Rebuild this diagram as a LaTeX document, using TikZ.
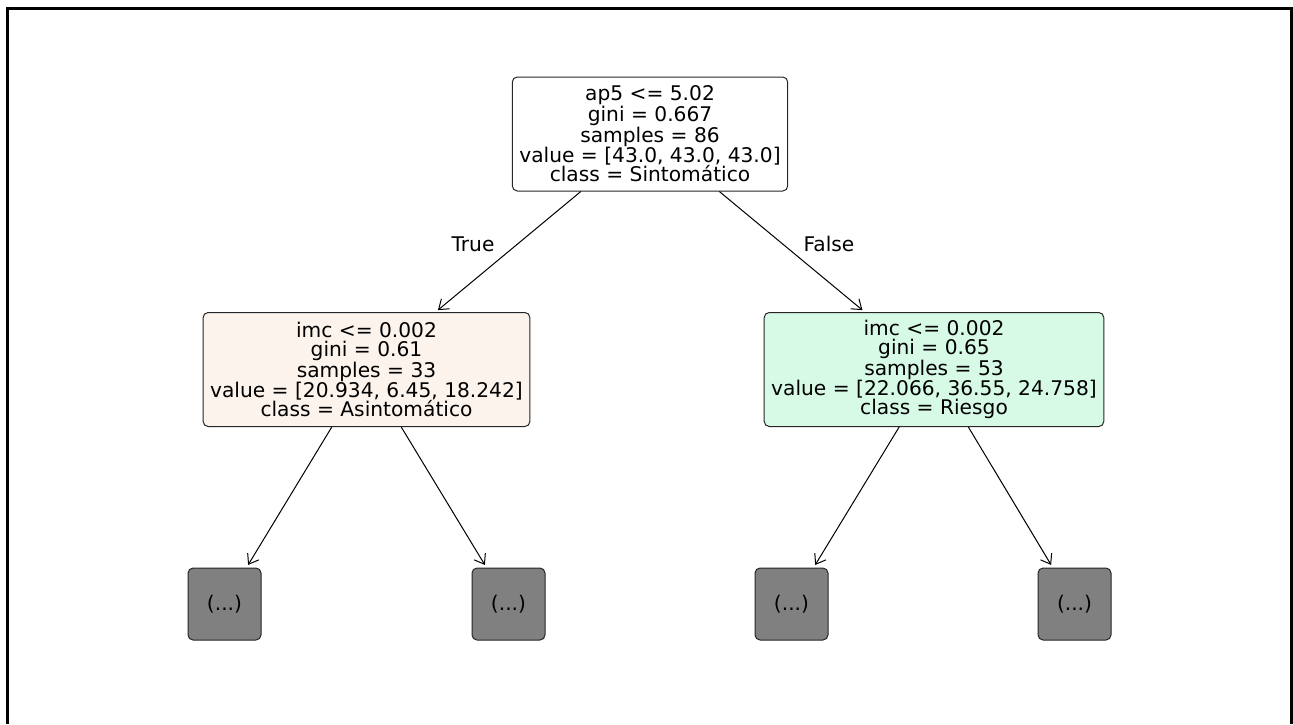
\documentclass[tikz,border=0pt]{standalone}
\usepackage{fontspec}
\setmainfont{DejaVu Sans}
\usetikzlibrary{arrows.meta}

\definecolor{asinto}{RGB}{252,243,236}
\definecolor{riesgo}{RGB}{215,250,230}
\definecolor{trunc}{RGB}{128,128,128}

\tikzset{
	split/.style={draw=black!85, line width=1pt, rounded corners=5pt, align=center,
		inner xsep=7pt, minimum height=114pt, font=\fontsize{20.2}{19.2}\selectfont},
	cut/.style={draw=black!85, line width=1pt, rounded corners=5pt, fill=trunc,
		minimum width=73pt, minimum height=72pt, font=\fontsize{20.2}{19.2}\selectfont},
	branch/.style={line width=1pt, -{Straight Barb[length=9pt,width=13pt]}, shorten >=3pt},
	side/.style={font=\fontsize{20.2}{19.2}\selectfont}
}

\begin{document}
\begin{tikzpicture}[x=1pt, y=-1pt]
	\useasboundingbox (0,0) rectangle (1293,724);
	\draw[line width=3pt] (7,724) -- (7,8) -- (1291,8) -- (1291,724);
	
	\node[split] (root) at (650,134) {ap5 <= 5.02\\gini = 0.667\\samples = 86\\value = [43.0, 43.0, 43.0]\\class = Sintomático};
	
	\node[split, fill=asinto] (a) at (366.5,369.5) {imc <= 0.002\\gini = 0.61\\samples = 33\\value = [20.934, 6.45, 18.242]\\class = Asintomático};
	\node[split, fill=riesgo] (b) at (934,369.5) {imc <= 0.002\\gini = 0.65\\samples = 53\\value = [22.066, 36.55, 24.758]\\class = Riesgo};
	
	\node[cut] (aa) at (224.5,604) {(...)};
	\node[cut] (ab) at (508.5,604) {(...)};
	\node[cut] (ba) at (791.5,604) {(...)};
	\node[cut] (bb) at (1074.5,604) {(...)};
	
	\node[side] (yes) at (473,244) {True};
	\node[side] (no) at (829,244) {False};
	
	\draw[branch] (root) -- (a);
	\draw[branch] (root) -- (b);
	\draw[branch] (a) -- (aa);
	\draw[branch] (a) -- (ab);
	\draw[branch] (b) -- (ba);
	\draw[branch] (b) -- (bb);
\end{tikzpicture}
\end{document}
